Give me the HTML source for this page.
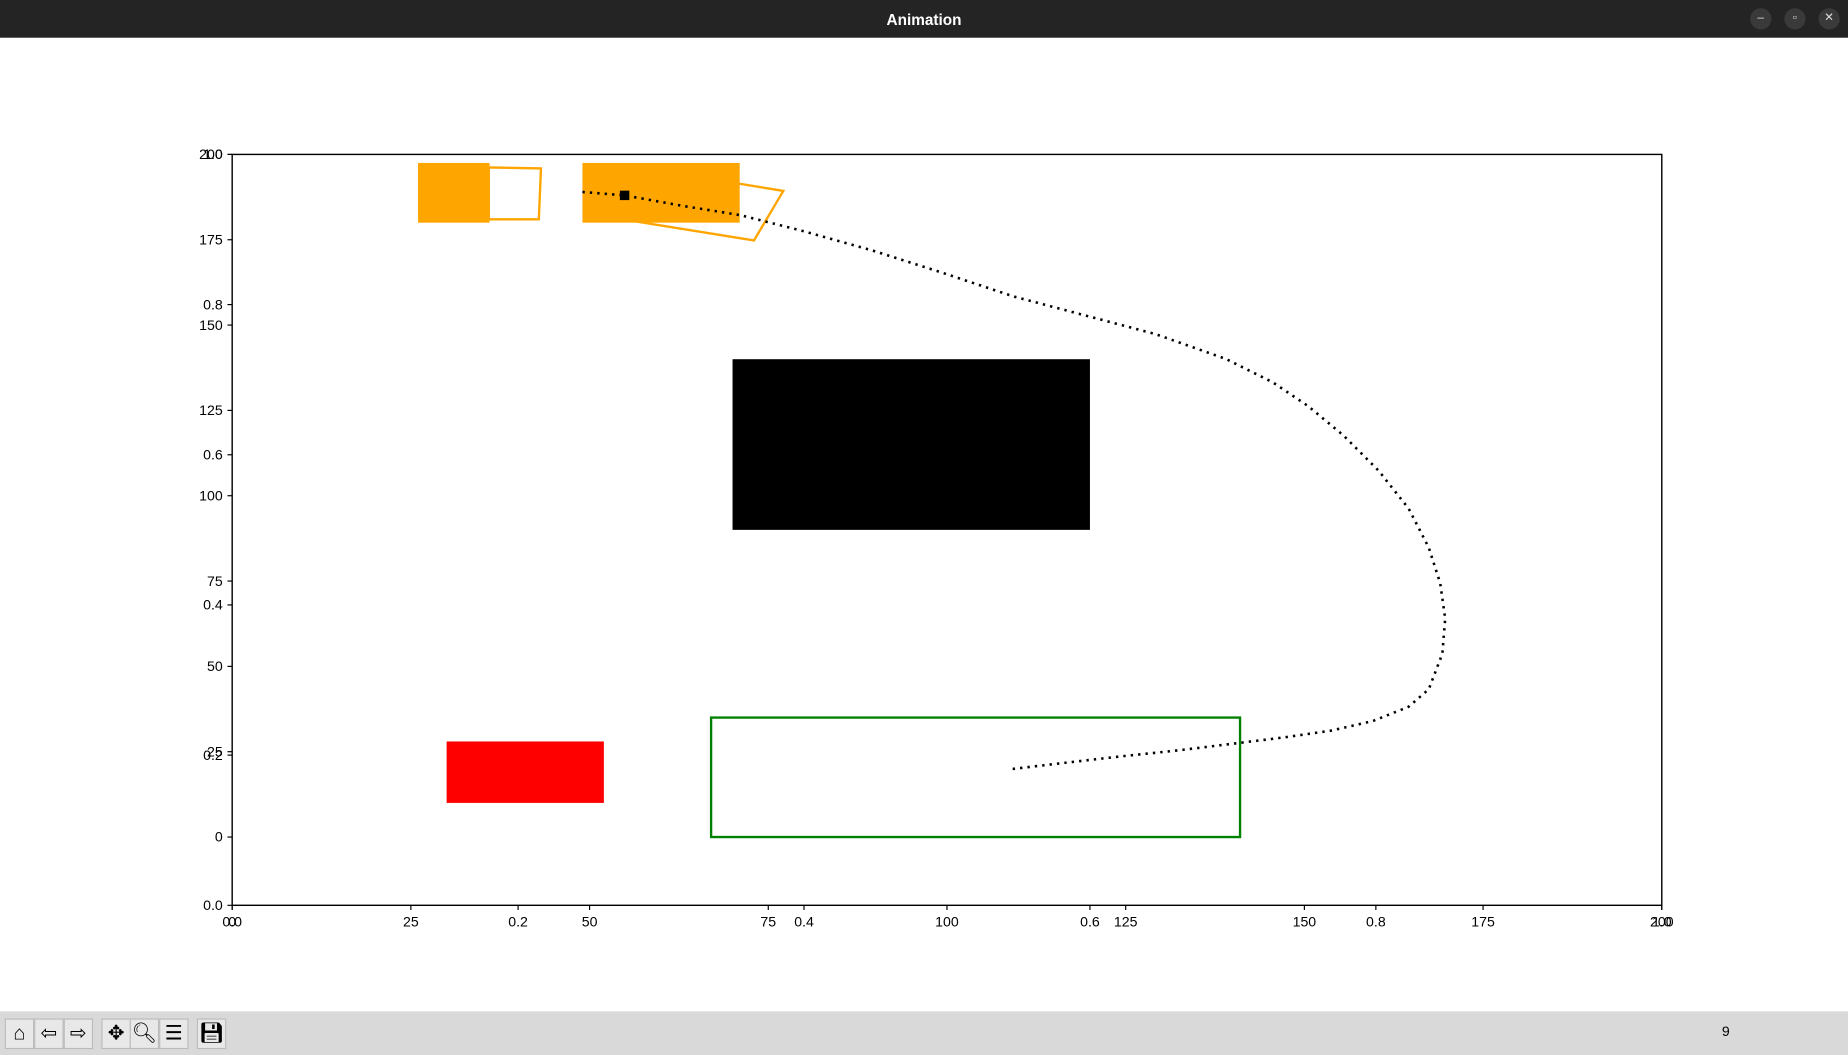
<!DOCTYPE html>
<html><head><meta charset="utf-8"><style>
html,body{margin:0;padding:0;width:1848px;height:1055px;overflow:hidden;background:#fff;font-family:"Liberation Sans","DejaVu Sans",sans-serif}
#wrap{position:absolute;left:0;top:0;width:1568px;height:895px;transform:scale(1.17857,1.17877);transform-origin:0 0}
#titlebar{position:absolute;left:0;top:0;width:1568px;height:32px;background:#242424;color:#fff;font-weight:bold;font-size:13px;text-align:center;line-height:33px}
.wbtn{position:absolute;top:7px;width:18px;height:18px;border-radius:9px;background:#3a3a3a;color:#ddd;font-size:10px;line-height:18px;text-align:center;font-weight:normal}
#toolbar{position:absolute;left:0;top:858px;width:1568px;height:37px;background:#d9d9d9}
.tb{position:absolute;top:6px;width:23px;height:24px;background:#e8e8e8;border:1px solid #bbb;font-size:17px;line-height:24px;text-align:center;color:#000}
svg{position:absolute;left:0;top:0}
</style></head><body>
<div id="wrap">
<div id="titlebar">Animation
<div class="wbtn" style="left:1485px">–</div>
<div class="wbtn" style="left:1514px">▫</div>
<div class="wbtn" style="left:1543px">✕</div>
</div>
<svg id="chart" width="1568" height="858"></svg>
<div id="toolbar">
<div class="tb" style="left:4px">⌂</div>
<div class="tb" style="left:29px">⇦</div>
<div class="tb" style="left:54px">⇨</div>
<div class="tb" style="left:86px">✥</div>
<div class="tb" style="left:110px">🔍︎</div>
<div class="tb" style="left:135px">☰</div>
<div class="tb" style="left:167px">💾︎</div>
<div style="position:absolute;left:1461px;top:10px;font-size:12px">9</div>
</div>
</div>
<script>
const xTicks=[0,25,50,75,100,125,150,175,200];
const yTicks=[0,25,50,75,100,125,150,175,200];
const uTicks=[0.0,0.2,0.4,0.6,0.8,1.0];
const pathX=[49.0,54.9,63.1,71.1,79.6,89.5,99.4,109.3,119.2,129.1,139.0,145.6,150.5,155.5,160.4,164.6,167.4,169.0,169.7,169.3,167.4,164.6,159.6,153.8,147.2,140.6,132.4,124.2,115.9,109.0];
const pathY=[189.0,188.0,184.9,182.2,177.7,171.9,165.3,158.4,152.9,147.4,140.1,133.2,126.3,117.6,107.3,96.2,84.8,74.4,64.0,53.7,43.3,38.2,34.0,31.2,29.2,27.5,25.4,23.6,21.6,19.9];
const robotPos=[54.9,188.0];
const L=197,R=1410,T=131,B=768;
const X=v=>L+(v-0)/200*(R-L);
const Y=v=>B-(v+20)/220*(B-T);
const UX=v=>L+v*(R-L), UY=v=>B-v*(B-T);
const svg=document.getElementById('chart');
const NS='http://www.w3.org/2000/svg';
function mk(t,a){const e=document.createElementNS(NS,t);for(const k in a)e.setAttribute(k,a[k]);svg.appendChild(e);return e;}
function rect(x0,y0,x1,y1,fill,stroke,name){const e=mk('rect',{x:X(x0),y:Y(y1),width:X(x1)-X(x0),height:Y(y0)-Y(y1),fill:fill,stroke:stroke,'stroke-width':2});

return e;}
function poly(pts,name){const e=mk('polygon',{points:pts.map(p=>X(p[0])+','+Y(p[1])).join(' '),fill:'none',stroke:'#ffa500','stroke-width':2});

}
rect(26,180,36,197.5,'#ffa500','none','parked-car-1');
rect(49,180,71,197.5,'#ffa500','none','parked-car-2');
poly([[35.9,196.2],[43.2,195.9],[42.9,181],[35.9,181]],'car-outline-1');
poly([[71,191.4],[77.1,189.3],[73,174.8],[54.6,181]],'car-outline-2');
rect(70,90,120,140,'#000','none','obstacle-block');
rect(30,10,52,28,'#ff0000','none','start-zone');
rect(67,0,141,35,'none','#008000','goal-zone');
const pl=mk('polyline',{points:pathX.map((x,i)=>X(x)+','+Y(pathY[i])).join(' '),fill:'none',stroke:'#000','stroke-width':2.2,'stroke-dasharray':'2 4.3'});


const m=mk('rect',{x:X(robotPos[0])-4,y:Y(robotPos[1])-4,width:8,height:8,fill:'#000'});


const fr=mk('rect',{x:L,y:T,width:R-L,height:B-T,fill:'none',stroke:'#000','stroke-width':1.2});


function tx(x,y,s,anchor,name){const e=mk('text',{x:x,y:y,'font-size':12,'text-anchor':anchor,fill:'#000','font-family':'Liberation Sans, DejaVu Sans, sans-serif'});e.textContent=s;

}
xTicks.forEach(v=>{mk('line',{x1:X(v),x2:X(v),y1:B,y2:B+4,stroke:'#000'});tx(X(v),B+18,String(v),'middle','x-tick-label');});
yTicks.forEach(v=>{mk('line',{x1:L-4,x2:L,y1:Y(v),y2:Y(v),stroke:'#000'});tx(L-8,Y(v)+4,String(v),'end','y-tick-label');});
uTicks.forEach(v=>{mk('line',{x1:UX(v),x2:UX(v),y1:B,y2:B+4,stroke:'#000'});tx(UX(v),B+18,v.toFixed(1),'middle','x2-tick-label');
mk('line',{x1:L-4,x2:L,y1:UY(v),y2:UY(v),stroke:'#000'});tx(L-8,UY(v)+4,v.toFixed(1),'end','y2-tick-label');});
</script>
</body></html>
